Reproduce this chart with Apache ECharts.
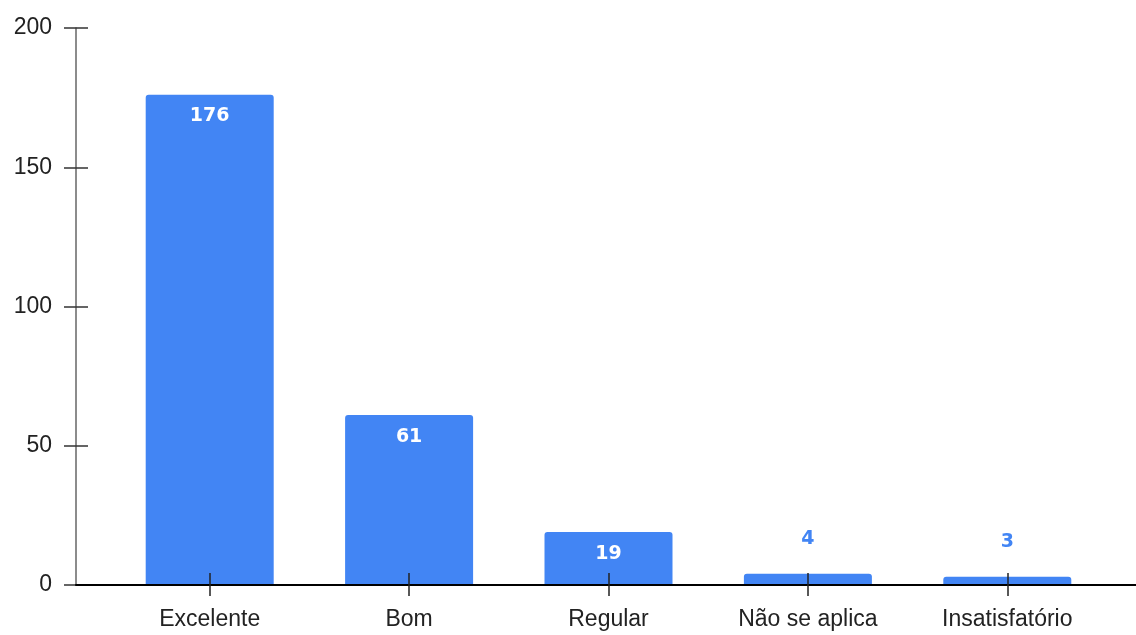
<!DOCTYPE html>
<html>
<head>
<meta charset="utf-8">
<script src="https://cdn.jsdelivr.net/npm/echarts@6/dist/echarts.min.js"></script>
<style>html,body{margin:0;padding:0;background:#fff}#c{width:1136px;height:635px}</style>
</head>
<body>
<div id="c"></div>
<script>
const categories = ['Excelente', 'Bom', 'Regular', 'Não se aplica', 'Insatisfatório'];
const values = [176, 61, 19, 4, 3];
const yTicks = [0, 50, 100, 150, 200];

const chart = echarts.init(document.getElementById('c'), null, {renderer: 'canvas'});
const blue = '#4285f4';
const labelFont = 'Liberation Sans, Arial, sans-serif';
const valueFont = 'DejaVu Sans, sans-serif';

const data = values.map(v => ({
  value: v,
  label: v > 10
    ? {show: true, position: 'insideTop', distance: 12, color: '#fff', fontWeight: 'bold', fontSize: 19, fontFamily: valueFont}
    : {show: true, position: 'top', distance: 25, color: blue, fontWeight: 'bold', fontSize: 19, fontFamily: valueFont}
}));

chart.setOption({
  animation: false,
  backgroundColor: '#fff',
  grid: [
    {left: 110, right: 29, top: 28, bottom: 50},
    {left: 76, right: 0, top: 28, bottom: 50}
  ],
  xAxis: [
    {type: 'category', gridIndex: 0, data: categories, position: 'bottom', z: 5,
     axisLine: {show: false},
     axisTick: {show: true, alignWithLabel: true, inside: false, length: 11, lineStyle: {color: '#222', width: 1.5}},
     axisLabel: {margin: 23, fontSize: 23, color: '#222', fontFamily: labelFont}},
    {type: 'category', gridIndex: 0, data: categories, position: 'bottom', z: 5,
     axisLine: {show: false},
     axisTick: {show: true, alignWithLabel: true, inside: true, length: 12, lineStyle: {color: '#222', width: 1.5}},
     axisLabel: {show: false}},
    {type: 'value', gridIndex: 1, min: 0, max: 1, position: 'bottom', z: 4,
     axisLine: {show: true, lineStyle: {color: '#000', width: 2}},
     axisTick: {show: false}, axisLabel: {show: false}, splitLine: {show: false}}
  ],
  yAxis: [
    {type: 'value', gridIndex: 0, min: yTicks[0], max: yTicks[yTicks.length - 1], show: false},
    {type: 'value', gridIndex: 1, position: 'left', min: yTicks[0], max: yTicks[yTicks.length - 1], interval: yTicks[1] - yTicks[0], z: 3,
     axisLine: {show: true, lineStyle: {color: '#666', width: 1.5}},
     axisTick: {show: true, inside: false, length: 12, lineStyle: {color: '#333', width: 1.5}},
     axisLabel: {margin: 24, fontSize: 23, color: '#222', fontFamily: labelFont},
     splitLine: {show: false}},
    {type: 'value', gridIndex: 1, position: 'left', min: yTicks[0], max: yTicks[yTicks.length - 1], interval: yTicks[1] - yTicks[0], z: 3,
     axisLine: {show: false},
     axisTick: {show: true, inside: true, length: 12, lineStyle: {color: '#333', width: 1.5}},
     axisLabel: {show: false}, splitLine: {show: false}}
  ],
  series: [{
    type: 'bar', xAxisIndex: 0, yAxisIndex: 0, data: data,
    barWidth: 128, z: 2,
    itemStyle: {color: blue, borderRadius: [3, 3, 0, 0]}
  }]
});
</script>
</body>
</html>
